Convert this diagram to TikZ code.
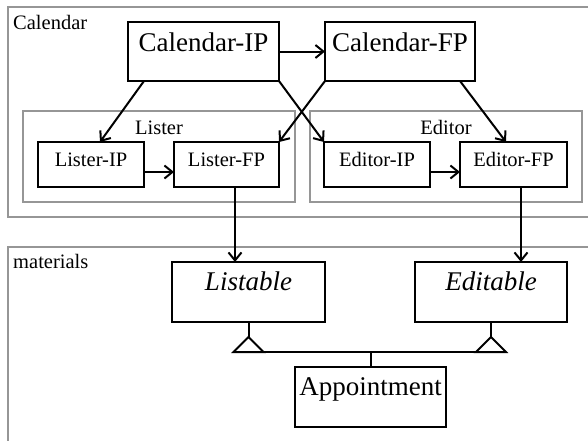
\documentclass[tikz,border=0pt]{standalone}
\usepackage{fontspec}
\setmainfont{Liberation Serif}
\usetikzlibrary{arrows.meta,calc}
\definecolor{framegray}{RGB}{150,150,150}

\begin{document}
\begin{tikzpicture}[x=1pt,y=-1pt,
  frame/.style={draw=framegray, line width=2.6pt, inner sep=0pt, outer sep=0pt, anchor=north west},
  box/.style={draw=black, line width=2pt, inner sep=0pt, outer sep=0pt, anchor=north west},
  big/.style={box, font=\fontsize{27}{30}\selectfont, text height=29pt, text depth=30pt},
  small/.style={box, font=\fontsize{20.5}{24}\selectfont, text height=24pt, text depth=21pt},
  tag/.style={inner sep=0pt, font=\fontsize{20.5}{24}\selectfont},
  dep/.style={draw, line width=2pt, -{Straight Barb[length=8pt,width=13pt]}},
  gen/.style={draw, line width=2pt}
]
\useasboundingbox (0,0) rectangle (588,440);
\clip (0,0) rectangle (588,440);

% packages
\node[frame, minimum width=600pt, minimum height=210pt] (calfr) at (8,7) {};
\node[tag, anchor=base west] (calname) at (13,29) {Calendar};
\node[frame, minimum width=600pt, minimum height=220pt] (matfr) at (8,247) {};
\node[tag, anchor=base west] (matname) at (13,268) {materials};
\node[frame, minimum width=272pt, minimum height=91pt] (lisfr) at (23,111) {};
\node[tag, anchor=base] (lisname) at (159,134) {Lister};
\node[frame, minimum width=272pt, minimum height=91pt] (edfr) at (310,111) {};
\node[tag, anchor=base] (edname) at (446,134) {Editor};

% classes
\node[big, minimum width=151pt] (cip) at (128,22) {Calendar-IP};
\node[big, minimum width=150pt] (cfp) at (325,22) {Calendar-FP};
\node[small, minimum width=106pt] (lip) at (38,142) {Lister-IP};
\node[small, minimum width=105pt] (lfp) at (174,142) {Lister-FP};
\node[small, minimum width=106pt] (eip) at (324,142) {Editor-IP};
\node[small, minimum width=107pt] (efp) at (460,142) {Editor-FP};
\node[big, minimum width=153pt, text height=28pt, text depth=32pt] (lst) at (172,262) {\itshape Listable};
\node[big, minimum width=152pt, text height=28pt, text depth=32pt] (edt) at (415,262) {\itshape Editable};
\node[big, minimum width=151pt, text height=28pt, text depth=32pt] (app) at (295,367) {Appointment};

% dependencies
\draw[dep] (cip.east) -- (cfp.west);
\draw[dep] ($(cip.south west)+(16,0)$) -- ($(lip.north west)+(62,0)$);
\draw[dep] (cip.south east) -- (eip.north west);
\draw[dep] (cfp.south west) -- (lfp.north east);
\draw[dep] ($(cfp.south west)+(135,0)$) -- ($(efp.north west)+(46,0)$);
\draw[dep] ($(lip.east)+(0,7.5)$) -- ($(lfp.west)+(0,7.5)$);
\draw[dep] ($(eip.east)+(0,7.5)$) -- ($(efp.west)+(0,7.5)$);
\draw[dep] ($(lfp.south west)+(61,0)$) coordinate (ldown) -- (ldown |- lst.north);
\draw[dep] ($(efp.south west)+(61,0)$) coordinate (edown) -- (edown |- edt.north);

% generalization
\draw[gen] (lst.south) -- ++(0,15) coordinate (tl);
\draw[gen] (tl) -- ++(-15,15) coordinate (bl) -- ++(30,0) -- cycle;
\draw[gen] (edt.south) -- ++(0,15) coordinate (tr);
\draw[gen] (tr) -- ++(-15,15) -- ++(30,0) coordinate (br) -- cycle;
\draw[gen] (bl) -- (br);
\draw[gen] (app.north) -- (app.north |- bl);
\end{tikzpicture}
\end{document}
